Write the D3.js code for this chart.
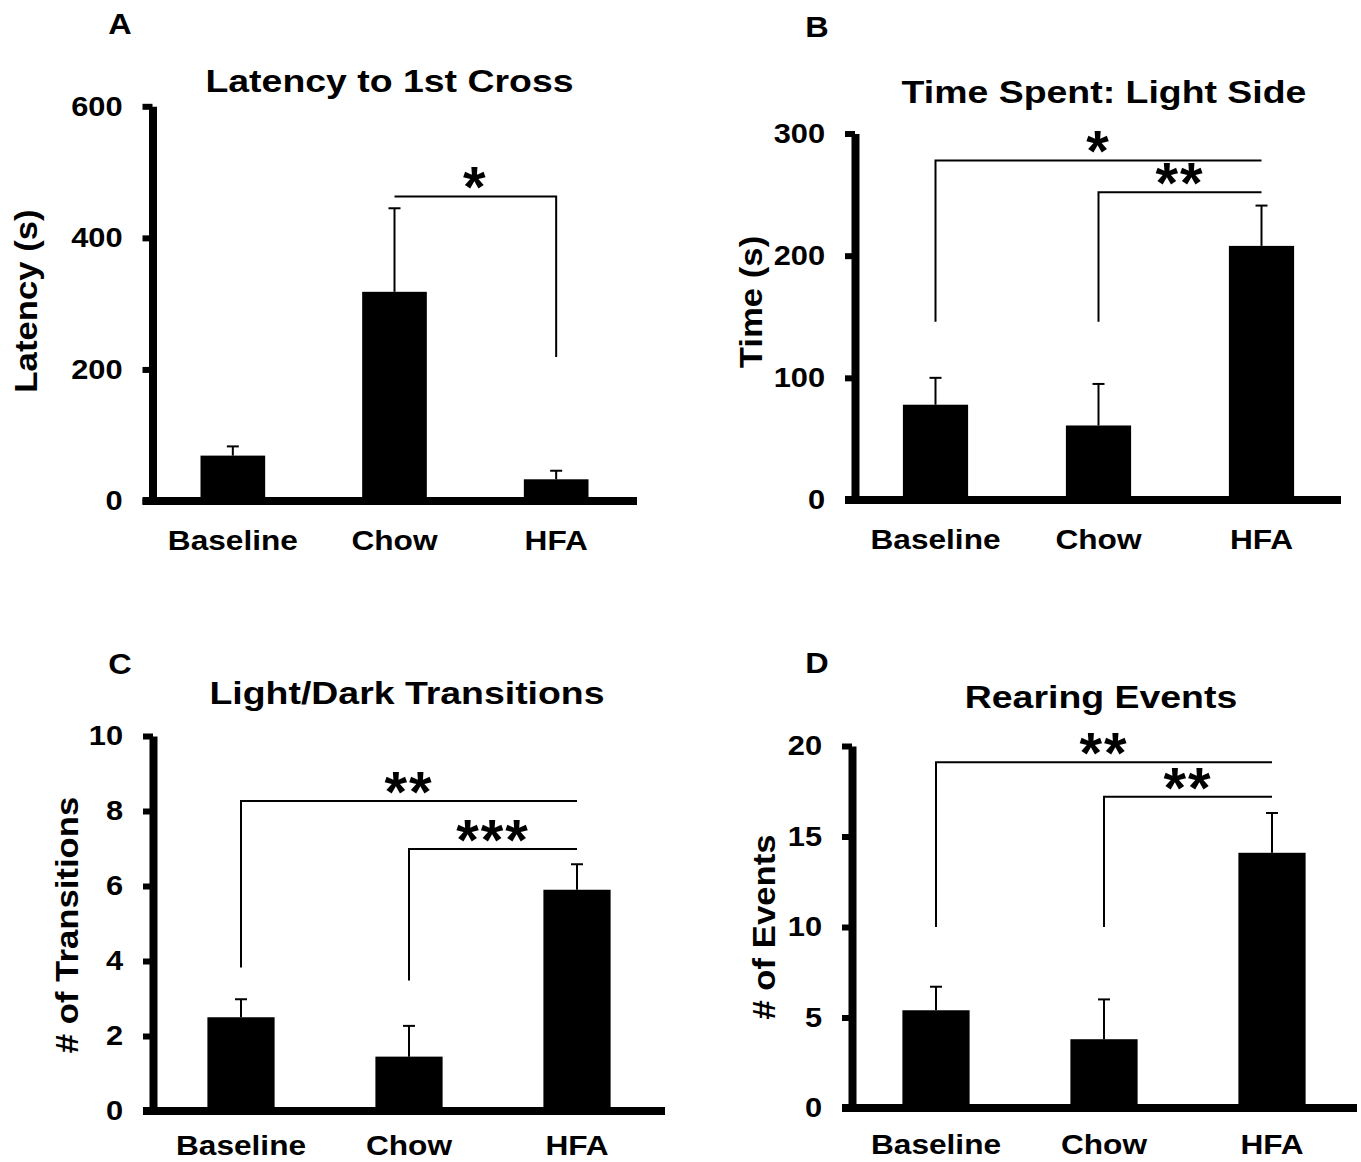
<!DOCTYPE html>
<html>
<head>
<meta charset="utf-8">
<script src="https://cdn.jsdelivr.net/npm/d3@7"></script>
<style>
  body { margin: 0; background: #fff; }
  text { font-family: "Liberation Sans", Arial, sans-serif; font-weight: bold; fill: #000; }
</style>
</head>
<body>
<script>
// data
const categories = ["Baseline", "Chow", "HFA"];

const latencyMean = [69, 318, 33];
const latencySem = [14, 127, 13];
const latencyTicks = [0, 200, 400, 600];

const timeMean = [78, 61, 208];
const timeSem = [22, 34, 33];
const timeTicks = [0, 100, 200, 300];

const transMean = [2.5, 1.45, 5.9];
const transSem = [0.48, 0.82, 0.68];
const transTicks = [0, 2, 4, 6, 8, 10];

const rearMean = [5.4, 3.8, 14.1];
const rearSem = [1.3, 2.2, 2.2];
const rearTicks = [0, 5, 10, 15, 20];

// significance brackets: from/to category, level of the bar, end of the drop line
const latencySig = [
  {from: "Chow", to: "HFA", level: 463, drop: 219, side: "right", label: "*"}
];
const timeSig = [
  {from: "Baseline", to: "HFA", level: 278, drop: 146, side: "left", label: "*"},
  {from: "Chow", to: "HFA", level: 252, drop: 146, side: "left", label: "**"}
];
const transSig = [
  {from: "Baseline", to: "HFA", level: 8.27, drop: 3.83, side: "left", label: "**"},
  {from: "Chow", to: "HFA", level: 6.99, drop: 3.48, side: "left", label: "***"}
];
const rearSig = [
  {from: "Baseline", to: "HFA", level: 19.1, drop: 10, side: "left", label: "**"},
  {from: "Chow", to: "HFA", level: 17.2, drop: 10, side: "left", label: "**"}
];

const panels = [
  {letter: "A", title: "Latency to 1st Cross", ylab: "Latency (s)",
   mean: latencyMean, sem: latencySem, ticks: latencyTicks, sig: latencySig,
   axisX: 152.5, y0: 501, yTop: 106.3, band: [152, 637], xEnd: 637, catY: 550,
   titlePos: [389.5, 92], letterPos: [120, 34], ylabPos: [37, 301]},
  {letter: "B", title: "Time Spent: Light Side", ylab: "Time (s)",
   mean: timeMean, sem: timeSem, ticks: timeTicks, sig: timeSig,
   axisX: 855, y0: 500, yTop: 133.5, band: [854, 1343], xEnd: 1341, catY: 549,
   titlePos: [1104, 103], letterPos: [817, 37], ylabPos: [762, 302]},
  {letter: "C", title: "Light/Dark Transitions", ylab: "# of Transitions",
   mean: transMean, sem: transSem, ticks: transTicks, sig: transSig,
   axisX: 153, y0: 1111, yTop: 736, band: [157, 661], xEnd: 665, catY: 1155,
   titlePos: [407, 704], letterPos: [120, 674], ylabPos: [78, 925]},
  {letter: "D", title: "Rearing Events", ylab: "# of Events",
   mean: rearMean, sem: rearSem, ticks: rearTicks, sig: rearSig,
   axisX: 852, y0: 1108, yTop: 746, band: [852, 1356], xEnd: 1357, catY: 1154,
   titlePos: [1101, 708], letterPos: [817, 673], ylabPos: [775, 927]}
];

const svg = d3.select("body").append("svg")
  .attr("width", 1361)
  .attr("height", 1162);

svg.append("rect").attr("width", 1361).attr("height", 1162).attr("fill", "#fff");

// the figure's font is a bit wider than Arial, so stretch text horizontally
function stext(g, str, x, y, size, sx, rot) {
  return g.append("text")
    .attr("transform", "translate(" + x + "," + y + ") rotate(" + (rot || 0) + ") scale(" + sx + ",1)")
    .attr("text-anchor", "middle")
    .style("font-size", size + "px")
    .text(str);
}

function drawPanel(p) {
  const g = svg.append("g");

  const x = d3.scaleBand()
    .domain(categories)
    .range(p.band)
    .paddingInner(0.6)
    .paddingOuter(0.3);
  const y = d3.scaleLinear()
    .domain([0, d3.max(p.ticks)])
    .range([p.y0, p.yTop]);
  const cx = c => x(c) + x.bandwidth() / 2;

  // bars
  g.selectAll("rect.bar")
    .data(p.mean)
    .join("rect")
    .attr("class", "bar")
    .attr("x", (d, i) => x(categories[i]))
    .attr("width", x.bandwidth())
    .attr("y", d => y(d))
    .attr("height", d => p.y0 - y(d))
    .attr("fill", "#000");

  // error bars (upper only)
  const eb = g.selectAll("g.err")
    .data(p.mean)
    .join("g")
    .attr("class", "err");
  eb.append("line")
    .attr("x1", (d, i) => cx(categories[i]))
    .attr("x2", (d, i) => cx(categories[i]))
    .attr("y1", d => y(d))
    .attr("y2", (d, i) => y(d + p.sem[i]))
    .attr("stroke", "#000").attr("stroke-width", 2);
  eb.append("line")
    .attr("x1", (d, i) => cx(categories[i]) - 6)
    .attr("x2", (d, i) => cx(categories[i]) + 6)
    .attr("y1", (d, i) => y(d + p.sem[i]))
    .attr("y2", (d, i) => y(d + p.sem[i]))
    .attr("stroke", "#000").attr("stroke-width", 2);

  // y axis
  const ax = g.append("g")
    .attr("transform", "translate(" + p.axisX + ",0)")
    .call(d3.axisLeft(y).tickValues(p.ticks).tickSize(10).tickSizeOuter(0));
  ax.attr("font-family", null).attr("font-size", null);
  ax.select(".domain").attr("stroke-width", 8);
  ax.selectAll(".tick line").attr("stroke-width", 6);
  ax.selectAll(".tick text")
    .attr("x", -30 / 1.1)
    .attr("transform", "scale(1.1,1)")
    .attr("fill", "#000")
    .style("font-size", "28px");

  // x axis line
  g.append("line")
    .attr("x1", p.axisX - 10)
    .attr("x2", p.xEnd)
    .attr("y1", p.y0)
    .attr("y2", p.y0)
    .attr("stroke", "#000")
    .attr("stroke-width", 8);

  // category labels
  categories.forEach(c => stext(g, c, cx(c), p.catY, 28, 1.13));

  // significance brackets
  p.sig.forEach(s => {
    const xl = cx(s.from), xr = cx(s.to), yl = y(s.level), yd = y(s.drop);
    const d = s.side === "left"
      ? "M" + xl + "," + yd + "V" + yl + "H" + xr
      : "M" + xl + "," + yl + "H" + xr + "V" + yd;
    g.append("path")
      .attr("d", d)
      .attr("fill", "none")
      .attr("stroke", "#000")
      .attr("stroke-width", 2);
    g.append("text")
      .attr("x", (xl + xr) / 2)
      .attr("y", yl + 11)
      .attr("text-anchor", "middle")
      .attr("letter-spacing", 2)
      .style("font-size", "58px")
      .text(s.label);
  });

  // titles and labels
  stext(g, p.title, p.titlePos[0], p.titlePos[1], 32, 1.17);
  stext(g, p.letter, p.letterPos[0], p.letterPos[1], 29, 1.12);
  stext(g, p.ylab, p.ylabPos[0], p.ylabPos[1], 31, 1.12, -90);
}

panels.forEach(drawPanel);
</script>
</body>
</html>
